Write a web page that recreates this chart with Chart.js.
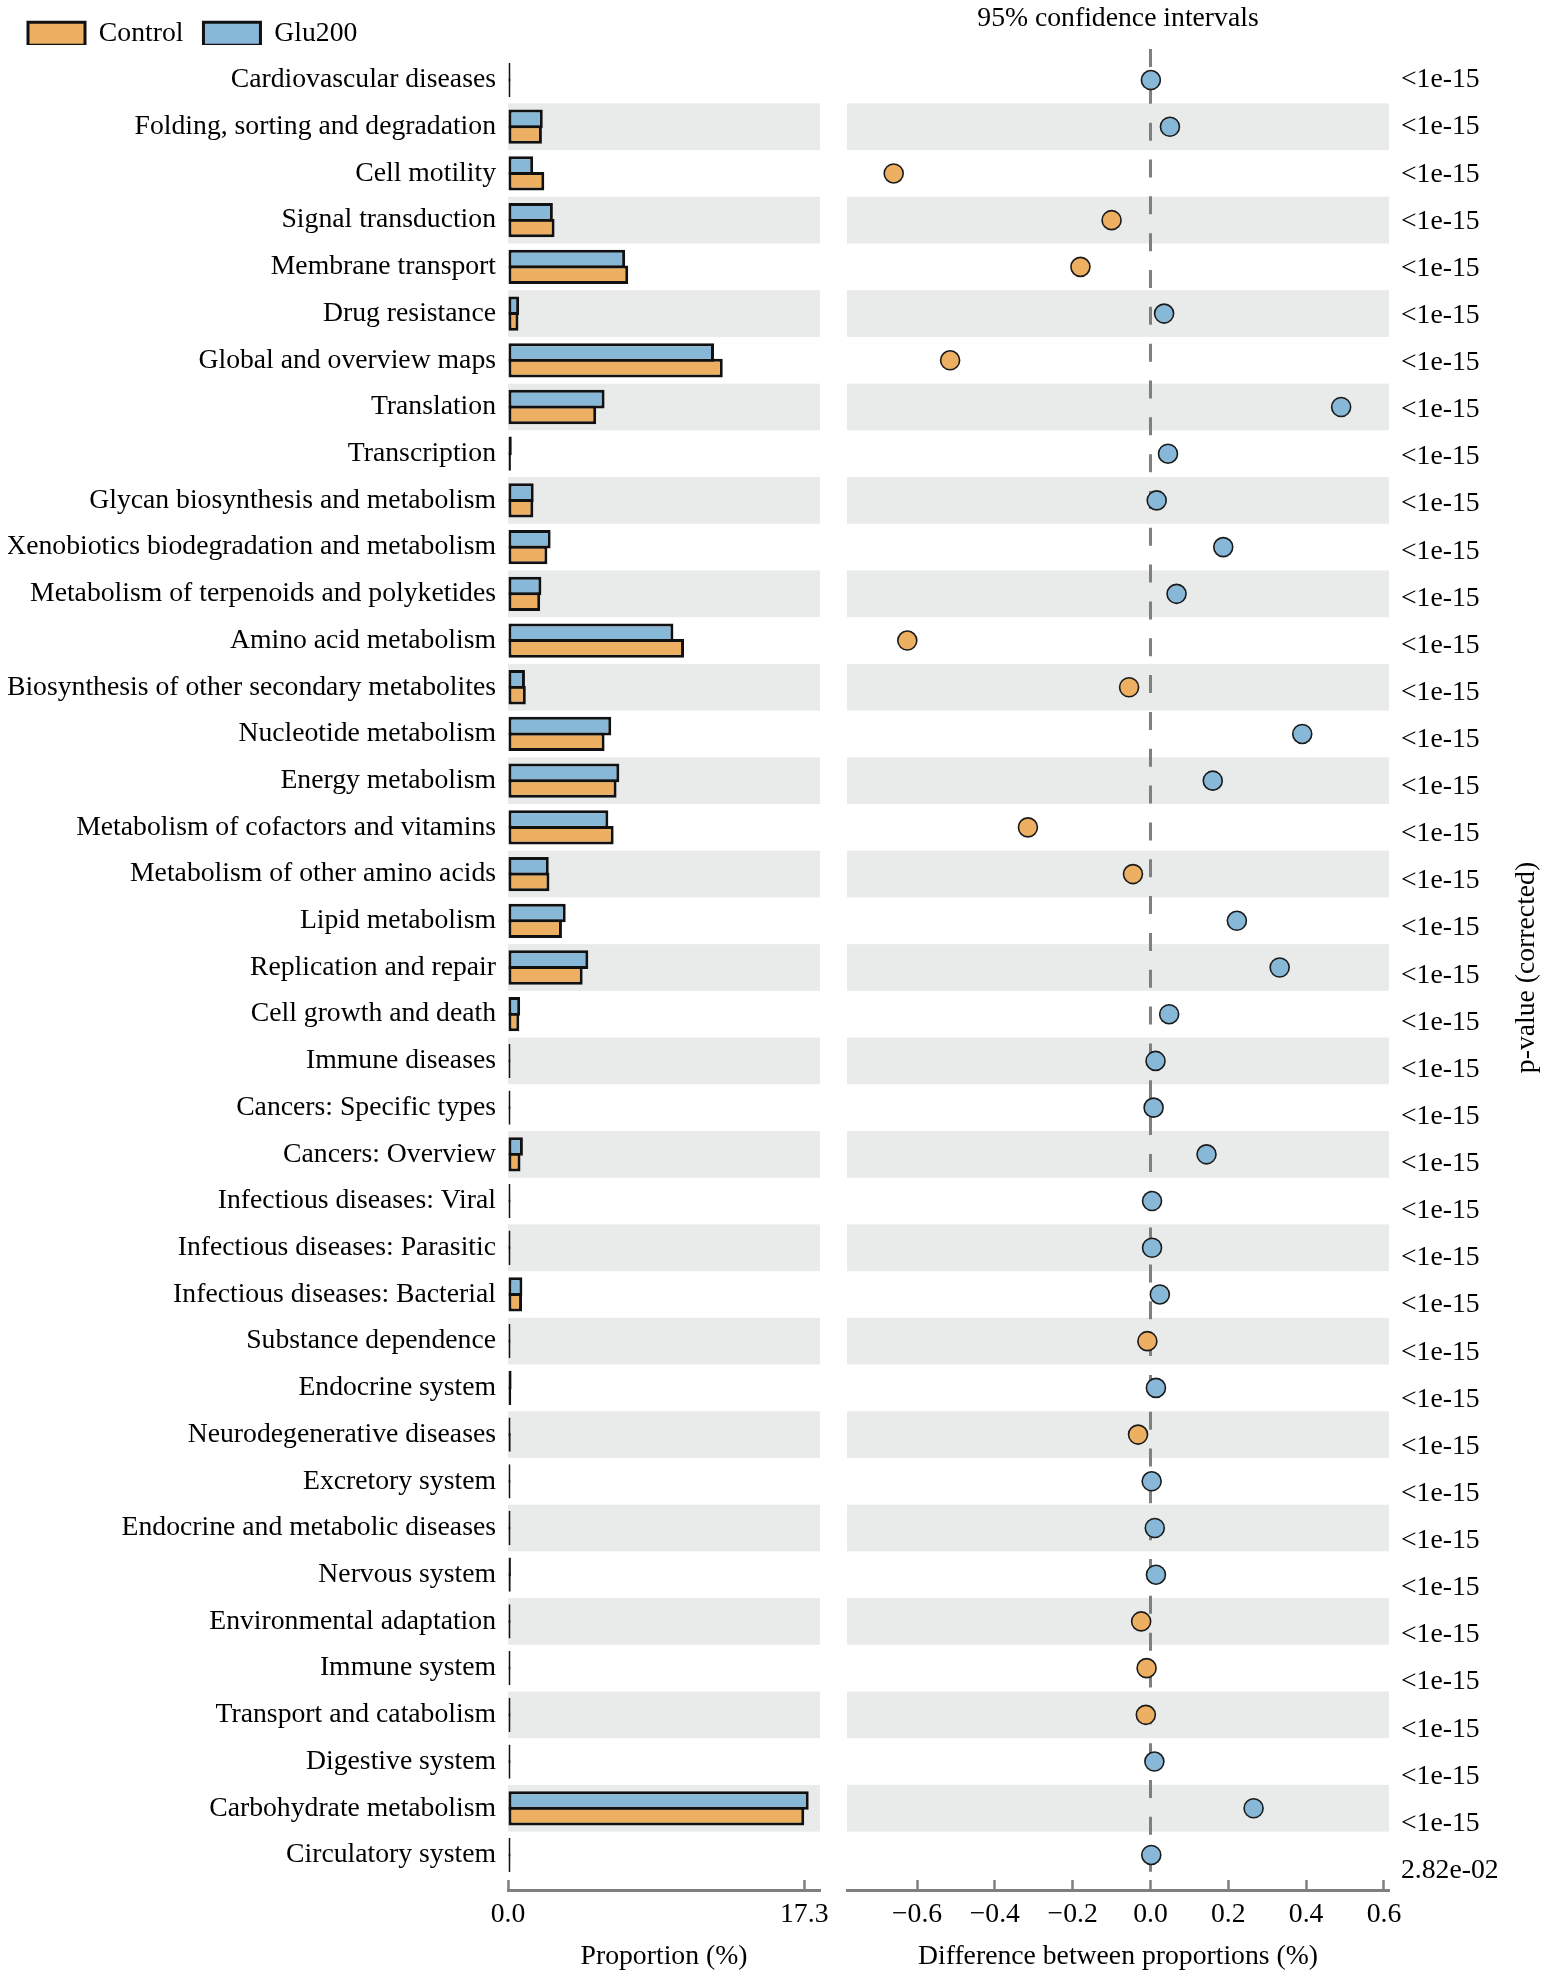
<!DOCTYPE html>
<html>
<head>
<meta charset="utf-8">
<script src="https://cdn.jsdelivr.net/npm/chart.js@4.4.1/dist/chart.umd.min.js"></script>
<style>
  body { margin: 0; background: #fff; }
  #wrap { position: relative; width: 1547px; height: 1977px; }
  #left { position: absolute; left: 0; top: 0; }
  #right { position: absolute; left: 830px; top: 0; }
</style>
</head>
<body>
<div id="wrap">
  <canvas id="left" width="870" height="1977"></canvas>
  <canvas id="right" width="717" height="1977"></canvas>
</div>
<script>
// KEGG level-2 categories, top to bottom
const categories = [
  'Cardiovascular diseases', 'Folding, sorting and degradation', 'Cell motility',
  'Signal transduction', 'Membrane transport', 'Drug resistance',
  'Global and overview maps', 'Translation', 'Transcription',
  'Glycan biosynthesis and metabolism', 'Xenobiotics biodegradation and metabolism',
  'Metabolism of terpenoids and polyketides', 'Amino acid metabolism',
  'Biosynthesis of other secondary metabolites', 'Nucleotide metabolism',
  'Energy metabolism', 'Metabolism of cofactors and vitamins',
  'Metabolism of other amino acids', 'Lipid metabolism', 'Replication and repair',
  'Cell growth and death', 'Immune diseases', 'Cancers: Specific types',
  'Cancers: Overview', 'Infectious diseases: Viral', 'Infectious diseases: Parasitic',
  'Infectious diseases: Bacterial', 'Substance dependence', 'Endocrine system',
  'Neurodegenerative diseases', 'Excretory system', 'Endocrine and metabolic diseases',
  'Nervous system', 'Environmental adaptation', 'Immune system',
  'Transport and catabolism', 'Digestive system', 'Carbohydrate metabolism',
  'Circulatory system'
];

// proportion (%)
const glu200 = [0.03, 2.03, 1.47, 2.62, 6.84, 0.65, 12.03, 5.64, 0.22, 1.50,
  2.49, 1.95, 9.66, 0.99, 6.03, 6.50, 5.86, 2.38, 3.37, 4.69,
  0.71, 0.09, 0.05, 0.87, 0.02, 0.02, 0.84, 0.03, 0.21, 0.13,
  0.05, 0.12, 0.17, 0.12, 0.05, 0.13, 0.03, 17.56, 0.02];
const control = [0.03, 1.98, 2.12, 2.72, 7.02, 0.61, 12.54, 5.15, 0.17, 1.48,
  2.30, 1.88, 10.28, 1.04, 5.64, 6.34, 6.17, 2.42, 3.15, 4.36,
  0.66, 0.08, 0.04, 0.73, 0.02, 0.02, 0.82, 0.04, 0.19, 0.16,
  0.05, 0.11, 0.16, 0.14, 0.06, 0.14, 0.02, 17.30, 0.02];

// difference between proportions (%)
const diffs = [0.001, 0.05, -0.66, -0.10, -0.18, 0.035, -0.515, 0.49, 0.045, 0.016,
  0.187, 0.067, -0.625, -0.055, 0.39, 0.16, -0.315, -0.045, 0.222, 0.332,
  0.048, 0.013, 0.008, 0.144, 0.004, 0.004, 0.024, -0.008, 0.014, -0.032,
  0.003, 0.011, 0.014, -0.024, -0.010, -0.012, 0.010, 0.265, 0.002];

const pValues = [
  '<1e-15', '<1e-15', '<1e-15', '<1e-15', '<1e-15', '<1e-15', '<1e-15', '<1e-15',
  '<1e-15', '<1e-15', '<1e-15', '<1e-15', '<1e-15', '<1e-15', '<1e-15', '<1e-15',
  '<1e-15', '<1e-15', '<1e-15', '<1e-15', '<1e-15', '<1e-15', '<1e-15', '<1e-15',
  '<1e-15', '<1e-15', '<1e-15', '<1e-15', '<1e-15', '<1e-15', '<1e-15', '<1e-15',
  '<1e-15', '<1e-15', '<1e-15', '<1e-15', '<1e-15', '<1e-15', '2.82e-02'
];

const propTicks = [0, 17.3];
const diffTicks = [-0.6, -0.4, -0.2, 0, 0.2, 0.4, 0.6];

const BLUE = '#88b8d8';
const ORANGE = '#edb062';
const BAND = '#e9eaea';
const AXIS = '#7f7f7f';
const FONT = '"Liberation Serif", "Times New Roman", serif';
const FSIZE = 27.7;

Chart.defaults.font.family = FONT;
Chart.defaults.font.size = FSIZE;
Chart.defaults.color = '#000';

const rows = categories.map((c, i) => i);
const Y_MIN = -0.75, Y_MAX = 38.75;

// grey stripe behind every second row
const bandPlugin = {
  id: 'bands',
  beforeDatasetsDraw(chart) {
    const { ctx, chartArea, scales: { y } } = chart;
    ctx.save();
    ctx.fillStyle = BAND;
    for (let i = 1; i < categories.length; i += 2) {
      const y0 = y.getPixelForValue(i - 0.5);
      const y1 = y.getPixelForValue(i + 0.5);
      ctx.fillRect(chartArea.left, y0, chartArea.right - chartArea.left, y1 - y0);
    }
    ctx.restore();
  }
};

// keep the legend strip short so the rows start where they should
const legendHeightPlugin = {
  id: 'legendHeight',
  beforeInit(chart) {
    const fit = chart.legend.fit;
    chart.legend.fit = function () {
      fit.call(this);
      this.height = 45;
    };
  }
};

// rotated right-hand title, reading bottom to top
const pTitlePlugin = {
  id: 'pTitle',
  afterDraw(chart) {
    const { ctx, chartArea } = chart;
    ctx.save();
    ctx.translate(chart.width - 20, (chartArea.top + chartArea.bottom) / 2);
    ctx.rotate(-Math.PI / 2);
    ctx.font = FSIZE + 'px ' + FONT;
    ctx.fillStyle = '#000';
    ctx.textAlign = 'center';
    ctx.textBaseline = 'middle';
    ctx.fillText('p-value (corrected)', 0, 0);
    ctx.restore();
  }
};

function rowTicks(scale) {
  scale.ticks = rows.map(v => ({ value: v }));
}

function bottomAxis(min, max, tickVals, fmt, title) {
  return {
    type: 'linear', position: 'bottom', min: min, max: max,
    afterBuildTicks: s => { s.ticks = tickVals.map(v => ({ value: v })); },
    afterFit: s => { s.height = 87; },
    ticks: { padding: 18, callback: fmt, autoSkip: false, maxRotation: 0 },
    grid: { drawOnChartArea: false, drawTicks: true, tickLength: -10, tickColor: AXIS, tickWidth: 2.5 },
    border: { display: true, color: AXIS, width: 3 },
    title: { display: true, text: title, padding: { top: 0, bottom: 4 } }
  };
}

const fmtDiff = v => (v < 0 ? '\u2212' + Math.abs(v).toFixed(1) : v.toFixed(1));

const barStyle = {
  borderColor: '#111',
  borderWidth: 3,
  borderSkipped: false,
  minBarLength: 2.5,
  categoryPercentage: 0.67,
  barPercentage: 1.19
};

new Chart(document.getElementById('left'), {
  type: 'bar',
  data: {
    datasets: [
      Object.assign({ label: 'Glu200', data: rows.map(i => ({ x: glu200[i], y: i })), backgroundColor: BLUE }, barStyle),
      Object.assign({ label: 'Control', data: rows.map(i => ({ x: control[i], y: i })), backgroundColor: ORANGE }, barStyle)
    ]
  },
  options: {
    indexAxis: 'y',
    responsive: false,
    animation: false,
    layout: { padding: { left: 8, right: 50, top: 0, bottom: 0 } },
    scales: {
      x: bottomAxis(0, 18.22, propTicks, v => v.toFixed(1), 'Proportion (%)'),
      y: {
        type: 'linear', reverse: true, min: Y_MIN, max: Y_MAX, offset: false,
        afterBuildTicks: rowTicks,
        afterFit: s => { s.width = 500; },
        ticks: { padding: 12, autoSkip: false, callback: v => categories[v] },
        grid: { display: false, drawTicks: false, offset: false },
        border: { display: false }
      }
    },
    plugins: {
      legend: {
        position: 'top', align: 'start', reverse: true,
        labels: { boxWidth: 57, boxHeight: 23, padding: 20, color: '#000' }
      },
      tooltip: { enabled: false }
    }
  },
  plugins: [bandPlugin, legendHeightPlugin]
});

new Chart(document.getElementById('right'), {
  type: 'scatter',
  data: {
    datasets: [
      {
        type: 'scatter', label: 'difference',
        data: rows.map(i => ({ x: diffs[i], y: i })),
        pointRadius: 9.5, pointBorderWidth: 1.6, pointBorderColor: '#1a1a1a',
        pointBackgroundColor: ctx => ((diffs[ctx.dataIndex] ?? 0) >= 0 ? BLUE : ORANGE),
        order: 1
      },
      {
        type: 'line', label: 'zero',
        data: [{ x: 0, y: Y_MIN }, { x: 0, y: Y_MAX }],
        borderColor: AXIS, borderWidth: 3,
        borderDash: [18, 18.83], borderDashOffset: 32.83,
        pointRadius: 0, fill: false, order: 2
      }
    ]
  },
  options: {
    responsive: false,
    animation: false,
    layout: { padding: { left: 17, right: 0, top: 0, bottom: 0 } },
    scales: {
      x: bottomAxis(-0.78, 0.613, diffTicks, fmtDiff, 'Difference between proportions (%)'),
      xTop: {
        type: 'linear', position: 'top', min: -0.78, max: 0.613,
        afterFit: s => { s.height = 45; },
        ticks: { display: false },
        grid: { display: false, drawTicks: false },
        border: { display: false },
        title: { display: true, text: '95% confidence intervals', padding: { top: 2, bottom: 0 } }
      },
      y: { type: 'linear', display: false, reverse: true, min: Y_MIN, max: Y_MAX },
      y2: {
        type: 'linear', position: 'right', reverse: true, min: -0.743, max: 38.41,
        afterBuildTicks: rowTicks,
        afterFit: s => { s.width = 158; },
        ticks: { padding: 12, autoSkip: false, callback: v => pValues[v] },
        grid: { display: false, drawTicks: false },
        border: { display: false }
      }
    },
    plugins: {
      legend: { display: false },
      tooltip: { enabled: false }
    }
  },
  plugins: [bandPlugin, pTitlePlugin]
});
</script>
</body>
</html>
